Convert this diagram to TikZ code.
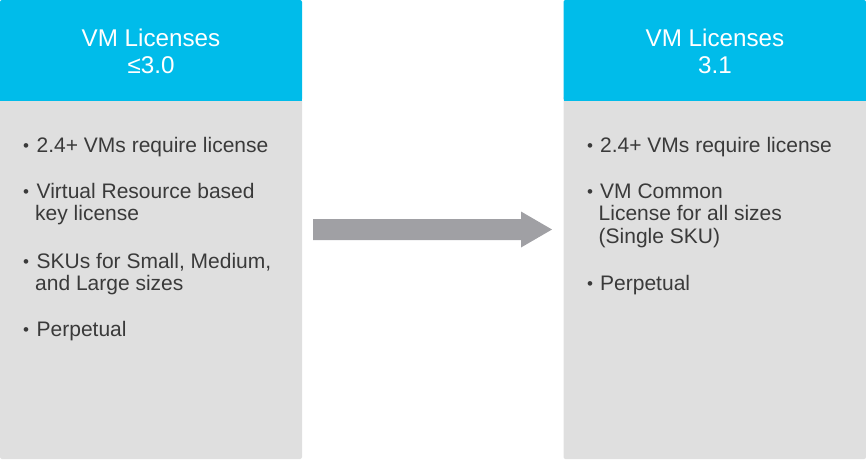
\documentclass[tikz,border=0pt]{standalone}
\usepackage{fontspec}
\setmainfont{Liberation Sans}
\definecolor{hdrcyan}{HTML}{00BCEA}
\definecolor{panelgray}{HTML}{DFDFDF}
\definecolor{arrowgray}{HTML}{A0A0A4}
\definecolor{bodytext}{HTML}{3A3A3A}
\tikzset{
  x=1pt, y=-1pt,
  header/.style={fill=hdrcyan, rounded corners=2pt},
  panel/.style={fill=panelgray, rounded corners=2pt},
  hdrtext/.style={text=white, font=\fontsize{24.2}{27}\selectfont, inner sep=0pt, anchor=base},
  line/.style={text=bodytext, font=\fontsize{21}{22.5}\selectfont, anchor=base west, inner sep=0pt},
  dot/.style={text=bodytext, font=\fontsize{17}{20}\selectfont, anchor=base, inner sep=0pt},
  bigarrow/.style={fill=arrowgray}
}
\begin{document}
\begin{tikzpicture}
\useasboundingbox (0,0) rectangle (866,459);
% left panel
\path[panel] (0,96) rectangle (302,459);
\path[header] (0,0) rectangle (302,100.5);
\path[fill=hdrcyan] (0,95) rectangle (302,100.5);
\node[hdrtext] (lh1) at (151,46) {VM Licenses};
\node[hdrtext] (lh2) at (151,73) {≤3.0};
% right panel
\path[panel] (563.5,96) rectangle (866,459);
\path[header] (563.5,0) rectangle (866,100.5);
\path[fill=hdrcyan] (563.5,95) rectangle (866,100.5);
\node[hdrtext] (rh1) at (715,46) {VM Licenses};
\node[hdrtext] (rh2) at (715,73) {3.1};
% left bullets
\node[dot] (ld1) at (26,151) {•};
\node[line] (lb1) at (36.5,152) {2.4+ VMs require license};
\node[dot] (ld2) at (26,197) {•};
\node[line] (lb2a) at (36.5,198) {Virtual Resource based};
\node[line] (lb2b) at (35,220.5) {key license};
\node[dot] (ld3) at (26,267) {•};
\node[line] (lb3a) at (36.5,268) {SKUs for Small, Medium,};
\node[line] (lb3b) at (35,290.5) {and Large sizes};
\node[dot] (ld4) at (26,335) {•};
\node[line] (lb4) at (36.5,336) {Perpetual};
% right bullets
\node[dot] (rd1) at (590,151) {•};
\node[line] (rb1) at (600,152) {2.4+ VMs require license};
\node[dot] (rd2) at (590,197) {•};
\node[line] (rb2a) at (600,198) {VM Common};
\node[line] (rb2b) at (598.5,220.5) {License for all sizes};
\node[line] (rb2c) at (598.5,243) {(Single SKU)};
\node[dot] (rd3) at (590,289) {•};
\node[line] (rb3) at (600,290) {Perpetual};
% arrow
\coordinate (as) at (313,229.5);
\coordinate (at) at (552,229.5);
\path[bigarrow] (313,219) -- (521,219) -- (521,211.5) -- (at) -- (521,247.5) -- (521,240) -- (313,240) -- cycle;
\end{tikzpicture}
\end{document}
